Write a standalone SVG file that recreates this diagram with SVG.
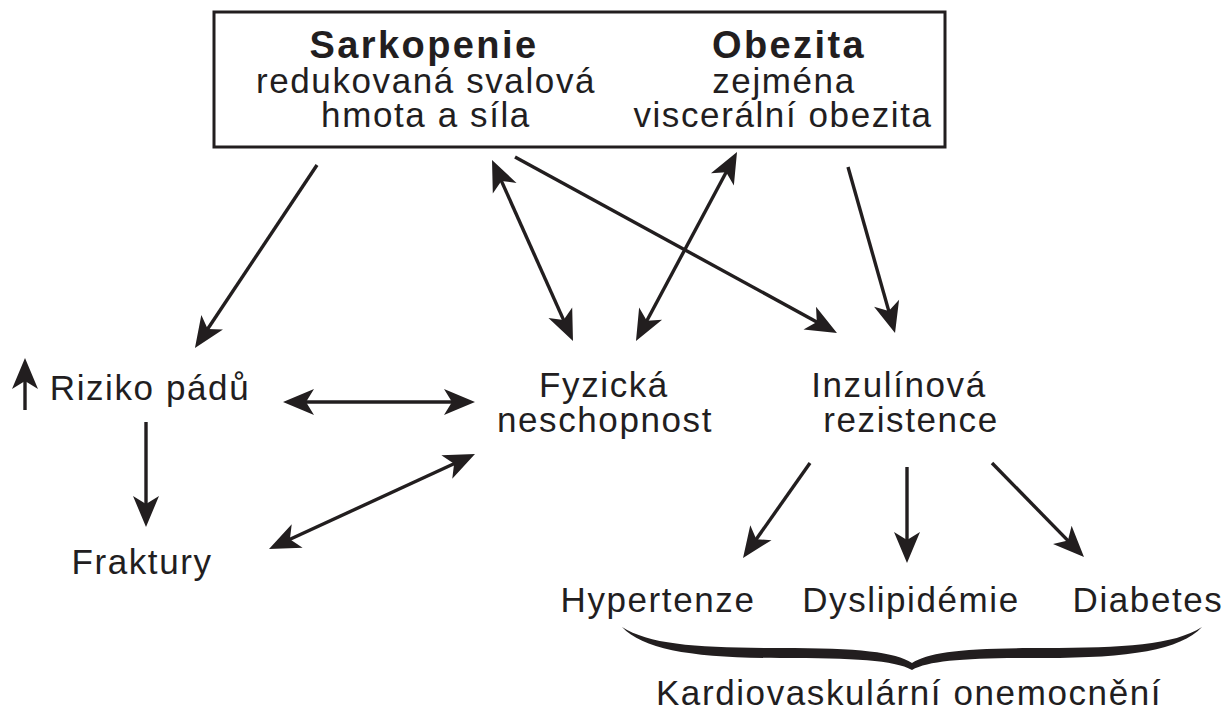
<svg xmlns="http://www.w3.org/2000/svg" width="1227" height="711" viewBox="0 0 1227 711">
<style>
.t{font-family:"Liberation Sans",Arial,sans-serif;font-size:35px;letter-spacing:1.6px;fill:#221e1f;text-anchor:middle}
.b{font-weight:bold;font-size:38px;letter-spacing:2.4px}
.c{stroke:#221e1f;stroke-width:3.4;fill:none;marker-end:url(#ah)}
.d{marker-start:url(#ah)}
</style>
<defs>
<marker id="ah" markerUnits="userSpaceOnUse" viewBox="-32 -15 34 30" refX="-10" refY="0" markerWidth="34" markerHeight="30" orient="auto-start-reverse" overflow="visible">
<path d="M0,0 L-31,-13 L-23,0 L-31,13 Z" fill="#221e1f"/>
</marker>
</defs>
<rect width="1227" height="711" fill="#ffffff"/>
<g id="box">
<rect x="214" y="12" width="731" height="135" fill="none" stroke="#221e1f" stroke-width="3"/>
<text class="t b" x="424" y="58">Sarkopenie</text>
<text class="t" x="426" y="93">redukovaná svalová</text>
<text class="t" x="426" y="127">hmota a síla</text>
<text class="t b" x="789" y="58">Obezita</text>
<text class="t" x="784" y="93">zejména</text>
<text class="t" x="783" y="127">viscerální obezita</text>
</g>
<g id="riziko">
<text class="t" x="150" y="400">Riziko pádů</text>
<line class="c" x1="25" y1="410" x2="25" y2="368"/>
</g>
<g id="fraktury"><text class="t" x="142" y="574">Fraktury</text></g>
<g id="fyzicka">
<text class="t" x="604" y="397">Fyzická</text>
<text class="t" x="605" y="432">neschopnost</text>
</g>
<g id="inzulin">
<text class="t" x="899" y="397">Inzulínová</text>
<text class="t" x="911" y="432">rezistence</text>
</g>
<g id="hypertenze"><text class="t" x="658" y="612">Hypertenze</text></g>
<g id="dyslipidemie"><text class="t" x="911" y="612">Dyslipidémie</text></g>
<g id="diabetes"><text class="t" x="1148" y="612">Diabetes</text></g>
<g id="kardio">
<path d="M622,627 C650,645 700,648 780,648 C860,648 895,652 912,663 C929,652 964,648 1044,648 C1124,648 1174,645 1202,627 C1180,650 1130,658 1044,658 C970,658 930,660 912,670 C894,660 854,658 780,658 C694,658 644,650 622,627 Z" fill="#221e1f"/>
<text class="t" x="909" y="705">Kardiovaskulární onemocnění</text>
</g>
<g id="connectors">
<line class="c" x1="317" y1="165" x2="200.5" y2="339.7"/>
<line class="c d" x1="496.1" y1="169.1" x2="568.9" y2="331.9"/>
<line class="c d" x1="732.3" y1="160.8" x2="640.7" y2="332.2"/>
<line class="c" x1="515" y1="157" x2="828.2" y2="328.2"/>
<line class="c" x1="848" y1="167" x2="892.3" y2="323.4"/>
<line class="c d" x1="293" y1="402" x2="465" y2="402"/>
<line class="c" x1="146" y1="422" x2="146" y2="517"/>
<line class="c d" x1="278.1" y1="544.8" x2="465.9" y2="458.2"/>
<line class="c" x1="810" y1="463" x2="748.8" y2="549.8"/>
<line class="c" x1="907" y1="467" x2="907" y2="553"/>
<line class="c" x1="992" y1="463" x2="1077" y2="549.9"/>
</g>
</svg>
